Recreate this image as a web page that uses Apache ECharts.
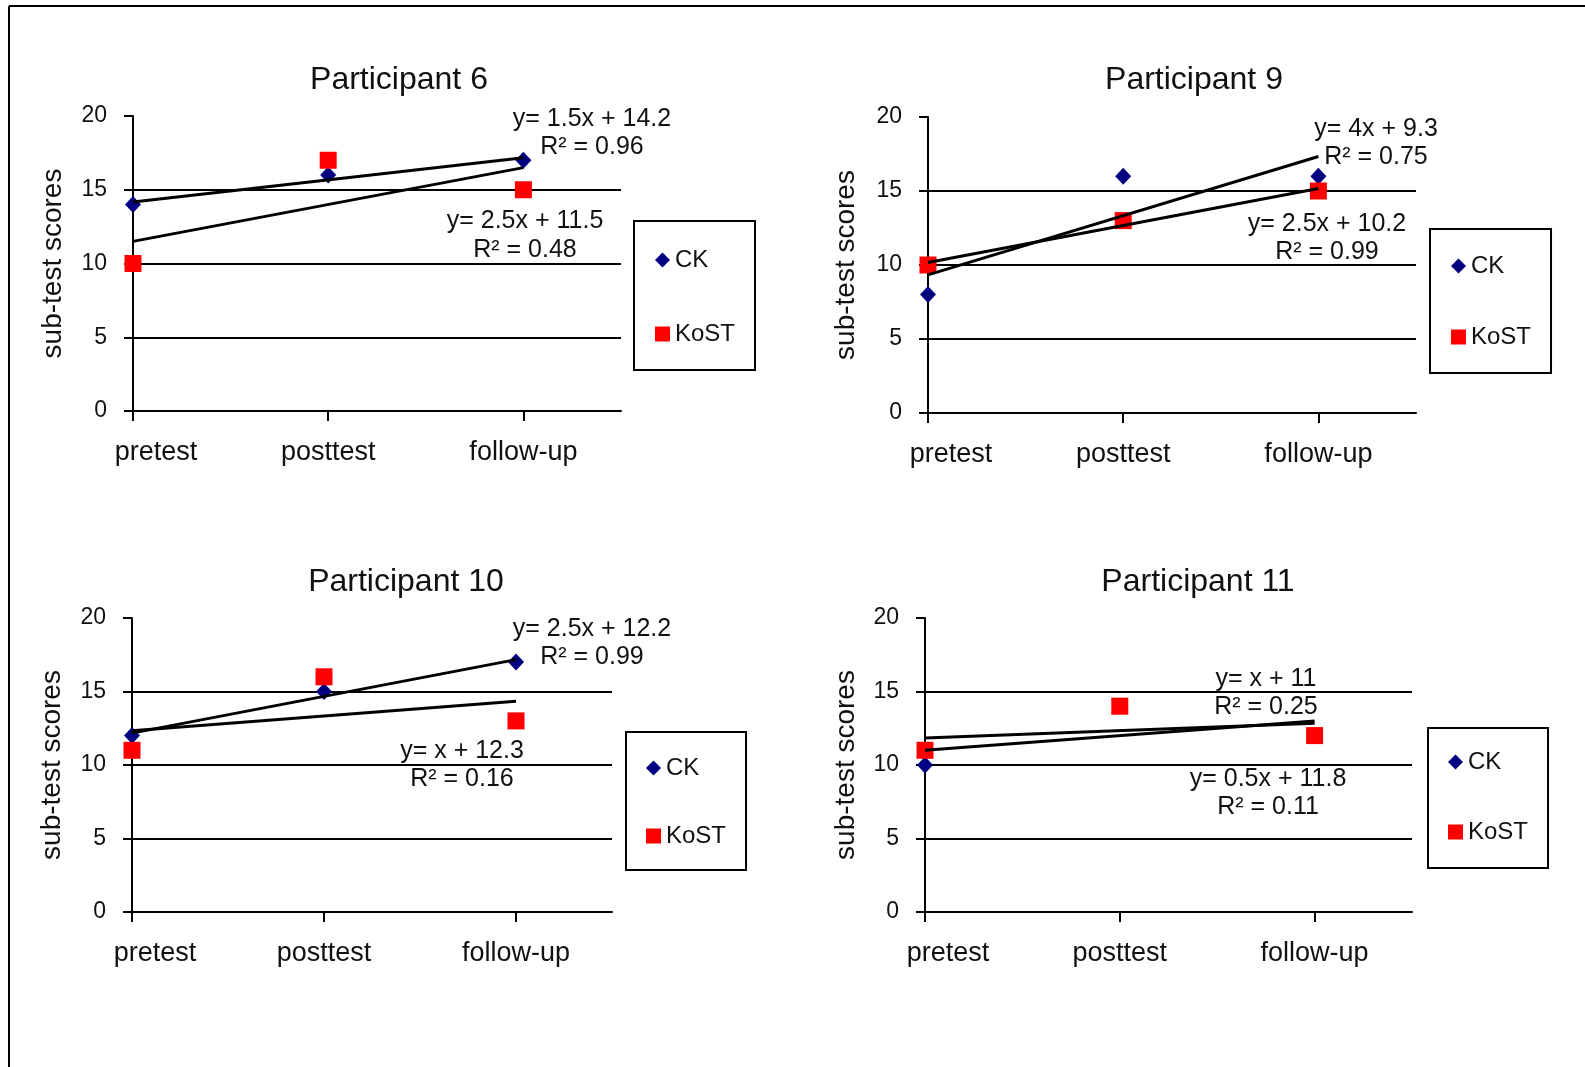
<!DOCTYPE html>
<html><head><meta charset="utf-8">
<script src="https://cdn.jsdelivr.net/npm/echarts@6/dist/echarts.min.js"></script>
<style>html,body{margin:0;padding:0;background:#fff}#c{width:1585px;height:1067px}</style>
</head><body><div id="c"></div>
<script>
// ---------- data ----------
const stages = ['pretest', 'posttest', 'follow-up'];
const participants = ['Participant 6', 'Participant 9', 'Participant 10', 'Participant 11'];
const ckP6 = [14, 16, 17];   const kostP6 = [10, 17, 15];
const ckP9 = [8, 16, 16];    const kostP9 = [10, 13, 15];
const ckP10 = [12, 15, 17];  const kostP10 = [11, 16, 13];
const ckP11 = [10, 14, 12];  const kostP11 = [11, 14, 12];
const yTicks = [0, 5, 10, 15, 20];
const eqCK = ['y= 1.5x + 14.2', 'y= 4x + 9.3', 'y= 2.5x + 12.2', 'y= x + 11'];
const r2CK = ['R² = 0.96', 'R² = 0.75', 'R² = 0.99', 'R² = 0.25'];
const eqKoST = ['y= 2.5x + 11.5', 'y= 2.5x + 10.2', 'y= x + 12.3', 'y= 0.5x + 11.8'];
const r2KoST = ['R² = 0.48', 'R² = 0.99', 'R² = 0.16', 'R² = 0.11'];
const seriesNames = ['CK', 'KoST'];
const yName = 'sub-test scores';

const ckAll = [ckP6, ckP9, ckP10, ckP11];
const kostAll = [kostP6, kostP9, kostP10, kostP11];

// ---------- layout (pixels) ----------
const layout = [
  { grid: { left: 133, top: 116, width: 488, height: 295 }, title: [399, 80], nameGap: 66,
    legend: { left: 634, top: 221, padding: [27, 20, 24, 21], gap: 50 },
    eqCK: [592, 119, 147], eqKoST: [525, 221, 250] },
  { grid: { left: 928, top: 117, width: 488, height: 296 }, title: [1194, 80], nameGap: 68,
    legend: { left: 1430, top: 229, padding: [25, 20, 24, 21], gap: 47 },
    eqCK: [1376, 129, 157], eqKoST: [1327, 224, 252] },
  { grid: { left: 132, top: 618, width: 480, height: 294 }, title: [406, 582], nameGap: 66,
    legend: { left: 626, top: 732, padding: [24, 20, 22, 20], gap: 44 },
    eqCK: [592, 629, 657], eqKoST: [462, 751, 779] },
  { grid: { left: 925, top: 618, width: 487, height: 294 }, title: [1198, 582], nameGap: 65,
    legend: { left: 1428, top: 728, padding: [22, 20, 24, 20], gap: 46 },
    eqCK: [1266, 679, 707], eqKoST: [1268, 779, 807] }
];

const FONT = '"Liberation Sans", Arial, sans-serif';
const TXT = '#111';

function fitLine(vals) {
  const n = vals.length;
  const mx = (n - 1) / 2;
  const my = vals.reduce((s, v) => s + v, 0) / n;
  let sxy = 0, sxx = 0;
  vals.forEach((v, j) => { sxy += (j - mx) * (v - my); sxx += (j - mx) * (j - mx); });
  const b = sxy / sxx, a = my - b * mx;
  return [[0, a], [n - 1, a + b * (n - 1)]];
}

const grids = [], xAxes = [], yAxes = [], series = [], titles = [], legends = [], graphics = [];

graphics.push({ type: 'line', shape: { x1: 9, y1: 6, x2: 1585, y2: 6 }, style: { stroke: '#000', lineWidth: 2 } });
graphics.push({ type: 'line', shape: { x1: 9, y1: 6, x2: 9, y2: 1067 }, style: { stroke: '#000', lineWidth: 2 } });

participants.forEach((p, i) => {
  const L = layout[i];
  grids.push(Object.assign({ containLabel: false }, L.grid));
  titles.push({ text: p, left: L.title[0], top: L.title[1], textAlign: 'center', textVerticalAlign: 'middle', padding: 0,
    textStyle: { fontFamily: FONT, fontSize: 32, fontWeight: 'normal', color: TXT } });
  xAxes.push({
    type: 'value', gridIndex: i, min: 0, max: 2.5,
    axisLine: { show: true, onZero: false, lineStyle: { color: '#000', width: 2 } },
    axisTick: { show: true, customValues: [0, 1, 2], length: 10, lineStyle: { color: '#000', width: 2 } },
    axisLabel: { customValues: [0, 1, 2], margin: 28, fontFamily: FONT, fontSize: 27, color: TXT,
      formatter: v => { const k = Math.round(v); if (Math.abs(v - k) > 1e-6 || !stages[k]) return ''; return k === 0 ? '{first|' + stages[k] + '}' : stages[k]; },
      rich: { first: { fontFamily: FONT, fontSize: 27, color: TXT, padding: [0, 0, 0, 46] } } },
    splitLine: { show: false }
  });
  yAxes.push({
    type: 'value', gridIndex: i, min: yTicks[0], max: yTicks[yTicks.length - 1], interval: yTicks[1] - yTicks[0],
    axisLine: { show: true, lineStyle: { color: '#000', width: 2 } },
    axisTick: { show: true, length: 9, lineStyle: { color: '#000', width: 2 } },
    axisLabel: { margin: 26, fontFamily: FONT, fontSize: 23, color: TXT },
    splitLine: { show: true, showMinLine: false, showMaxLine: false, lineStyle: { color: '#000', width: 2 } },
    name: yName, nameLocation: 'middle', nameGap: L.nameGap,
    nameTextStyle: { fontFamily: FONT, fontSize: 28, color: TXT }
  });
  series.push({ name: seriesNames[0], type: 'scatter', xAxisIndex: i, yAxisIndex: i, symbol: 'diamond', symbolSize: [16, 17],
    itemStyle: { color: '#000080', opacity: 1 }, z: 2, data: ckAll[i].map((v, j) => [j, v]) });
  series.push({ name: seriesNames[1], type: 'scatter', xAxisIndex: i, yAxisIndex: i, symbol: 'rect', symbolSize: [17, 17],
    itemStyle: { color: '#ff0000', opacity: 1 }, z: 3, data: kostAll[i].map((v, j) => [j, v]) });
  series.push({ name: 'CK trend', type: 'line', xAxisIndex: i, yAxisIndex: i, symbol: 'none', silent: true, z: 4,
    lineStyle: { color: '#000', width: 3 }, data: fitLine(ckAll[i]) });
  series.push({ name: 'KoST trend', type: 'line', xAxisIndex: i, yAxisIndex: i, symbol: 'none', silent: true, z: 4,
    lineStyle: { color: '#000', width: 3 }, data: fitLine(kostAll[i]) });
  legends.push({
    orient: 'vertical', left: L.legend.left, top: L.legend.top, padding: L.legend.padding, itemGap: L.legend.gap,
    borderColor: '#000', borderWidth: 2, itemWidth: 15, itemHeight: 15, selectedMode: false,
    textStyle: { fontFamily: FONT, fontSize: 24, color: TXT },
    data: [{ name: seriesNames[0], icon: 'diamond', itemStyle: { color: '#000080', opacity: 1 } },
           { name: seriesNames[1], icon: 'rect', itemStyle: { color: '#ff0000', opacity: 1 } }]
  });
  const addTxt = (t, x, y) => graphics.push({ type: 'text', x: x, y: y, z: 10,
    style: { text: t, fontFamily: FONT, fontSize: 25, fill: TXT, align: 'center', verticalAlign: 'middle' } });
  addTxt(eqCK[i], L.eqCK[0], L.eqCK[1]);
  addTxt(r2CK[i], L.eqCK[0], L.eqCK[2]);
  addTxt(eqKoST[i], L.eqKoST[0], L.eqKoST[1]);
  addTxt(r2KoST[i], L.eqKoST[0], L.eqKoST[2]);
});

const chart = echarts.init(document.getElementById('c'), null, { renderer: 'canvas' });
chart.setOption({
  animation: false,
  backgroundColor: '#fff',
  title: titles, grid: grids, xAxis: xAxes, yAxis: yAxes, legend: legends, series: series, graphic: graphics
});
</script></body></html>
